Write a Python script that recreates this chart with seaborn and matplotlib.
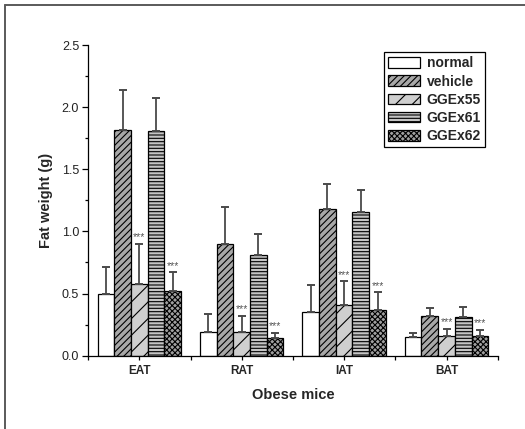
import matplotlib
matplotlib.use("Agg")
import matplotlib.pyplot as plt
from matplotlib.lines import Line2D
from matplotlib.ticker import MultipleLocator, FixedLocator, FormatStrFormatter
import numpy as np
import pandas as pd
import seaborn as sns

# Fat depot weights (g), mean and SD per treatment group
depots = ["EAT", "RAT", "IAT", "BAT"]
groups = ["normal", "vehicle", "GGEx55", "GGEx61", "GGEx62"]

normal_mean = [0.50, 0.19, 0.35, 0.15]
vehicle_mean = [1.82, 0.90, 1.18, 0.32]
ggex55_mean = [0.58, 0.19, 0.41, 0.16]
ggex61_mean = [1.81, 0.81, 1.16, 0.31]
ggex62_mean = [0.52, 0.14, 0.37, 0.16]

normal_sd = [0.21, 0.145, 0.22, 0.035]
vehicle_sd = [0.32, 0.30, 0.20, 0.065]
ggex55_sd = [0.32, 0.13, 0.19, 0.055]
ggex61_sd = [0.26, 0.17, 0.17, 0.08]
ggex62_sd = [0.15, 0.045, 0.14, 0.05]

# groups marked *** versus vehicle
significant = ["GGEx55", "GGEx62"]

means = [normal_mean, vehicle_mean, ggex55_mean, ggex61_mean, ggex62_mean]
sds = [normal_sd, vehicle_sd, ggex55_sd, ggex61_sd, ggex62_sd]

df = pd.DataFrame({
    "depot": [d for _ in groups for d in depots],
    "group": [g for g in groups for _ in depots],
    "weight": [v for m in means for v in m],
})

sns.set_style("white")
plt.rcParams["font.family"] = ["Liberation Sans", "DejaVu Sans"]
plt.rcParams["hatch.linewidth"] = 0.8
plt.rcParams["hatch.color"] = "black"

fig = plt.figure(figsize=(5.25, 4.29), dpi=100)
ax = fig.add_axes([0.168, 0.171, 0.780, 0.724])

sns.barplot(data=df, x="depot", y="weight", hue="group", order=depots,
            hue_order=groups, errorbar=None, width=0.815, dodge=True,
            legend=False, ax=ax, saturation=1)

faces = ["white", "#a8a8a8", "#cfcfcf", "#c4c4c4", "#a0a0a0"]
hatches = [None, "/////", "//", "-----", "xxxxxx"]

bar_containers = list(ax.containers)
for i, cont in enumerate(bar_containers):
    for j, p in enumerate(cont.patches):
        p.set_facecolor(faces[i])
        p.set_edgecolor("black")
        p.set_linewidth(0.9)
        if hatches[i]:
            p.set_hatch(hatches[i])
        x = p.get_x() + p.get_width() / 2
        h = p.get_height()
        e = sds[i][j]
        ax.errorbar(x, h, yerr=[[0], [e]], fmt="none", ecolor="#4a4a4a",
                    elinewidth=1.3, capsize=2.6, capthick=1.4, zorder=1)
        if groups[i] in significant:
            ax.annotate("***", (x, h + e), xytext=(0, 1.0),
                        textcoords="offset points", ha="center", va="bottom",
                        fontsize=7.5, color="#555555")

ax.set_xlim(-0.5, 3.5)
ax.set_ylim(0, 2.5)
ax.yaxis.set_major_locator(MultipleLocator(0.5))
ax.yaxis.set_minor_locator(MultipleLocator(0.25))
ax.xaxis.set_minor_locator(FixedLocator([-0.5, 0.5, 1.5, 2.5, 3.5]))
ax.yaxis.set_major_formatter(FormatStrFormatter("%.1f"))

ax.tick_params(axis="y", which="major", direction="out", length=4, width=0.9,
               labelsize=9, pad=2.5, left=True, color="black",
               labelcolor="#222222")
ax.tick_params(axis="y", which="minor", direction="out", length=2.5, width=0.9,
               left=True, color="black")
ax.tick_params(axis="x", which="both", direction="out", length=3, width=0.9,
               bottom=True, color="black")
ax.tick_params(axis="x", which="major", labelsize=8.5, pad=4)
for lbl in ax.get_xticklabels():
    lbl.set_fontweight("bold")

for side in ["top", "right"]:
    ax.spines[side].set_visible(False)
for side in ["left", "bottom"]:
    ax.spines[side].set_color("black")
    ax.spines[side].set_linewidth(0.9)

ax.set_xlabel("Obese mice", fontsize=10.5, fontweight="bold", labelpad=8)
ax.set_ylabel("Fat weight (g)", fontsize=10.5, fontweight="bold", labelpad=6)

handles = [cont.patches[0] for cont in bar_containers]
leg = ax.legend(handles, groups, loc="upper right",
                bbox_to_anchor=(0.969, 0.977), borderaxespad=0,
                frameon=True, fancybox=False, edgecolor="black",
                prop={"size": 10, "weight": "bold"},
                handlelength=2.3, handleheight=0.8, handletextpad=0.45,
                labelspacing=0.3, borderpad=0.3)
leg.get_frame().set_linewidth(0.9)
leg.get_frame().set_alpha(1)

# outer frame lines along the top and left edges
fig.add_artist(Line2D([4.5 / 525, 4.5 / 525], [0, 1 - 5 / 429],
                      transform=fig.transFigure, color="#5a5a5a", lw=1.4))
fig.add_artist(Line2D([4.5 / 525, 1], [1 - 5 / 429, 1 - 5 / 429],
                      transform=fig.transFigure, color="#5a5a5a", lw=1.4))

fig.savefig("out.png", dpi=100)
